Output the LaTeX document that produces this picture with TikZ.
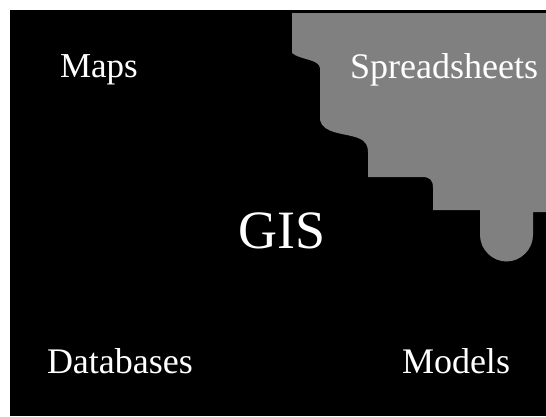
\documentclass[tikz,border=0pt]{standalone}
\usepackage{fontspec}
\setmainfont{Liberation Serif}
\definecolor{piecegray}{RGB}{128,128,128}
\tikzset{
  lbl/.style={text=white, inner sep=0pt, outer sep=0pt},
  mid/.style={lbl, font=\fontsize{36}{40}\selectfont},
  big/.style={lbl, font=\fontsize{54}{60}\selectfont},
}
\begin{document}
\begin{tikzpicture}[x=1pt,y=-1pt]
\useasboundingbox (0,0) rectangle (546,416);
\fill[white] (0,0) rectangle (546,416);
% black panel
\fill[black] (10,10) rectangle (546,416);
% gray puzzle piece
\fill[piecegray]
  (292,13) -- (546,13) -- (546,212) -- (533,212) -- (533,235)
  .. controls (533,249.6) and (520.6,261.5) .. (506.5,261.5)
  .. controls (492.4,261.5) and (480,249.6) .. (480,235)
  -- (480,210) -- (433,210) -- (433,188)
  .. controls (433,180) and (430,177) .. (422,177)
  -- (368,177) -- (368,152)
  .. controls (368,146) and (366,141) .. (358,138)
  .. controls (345,133) and (323,134) .. (320,120)
  -- (320,68)
  .. controls (319,59) and (300,60) .. (292,53) -- cycle;
% labels
\node[mid, font=\fontsize{35}{40}\selectfont, anchor=base west] (maps) at (60,77) {Maps};
\node[mid, anchor=base east] (spread) at (538,78) {Spreadsheets};
\node[big, anchor=base] (gis) at (282,248) {GIS};
\node[mid, anchor=base west] (db) at (47,373) {Databases};
\node[mid, anchor=base west] (models) at (402,373) {Models};
\end{tikzpicture}
\end{document}
